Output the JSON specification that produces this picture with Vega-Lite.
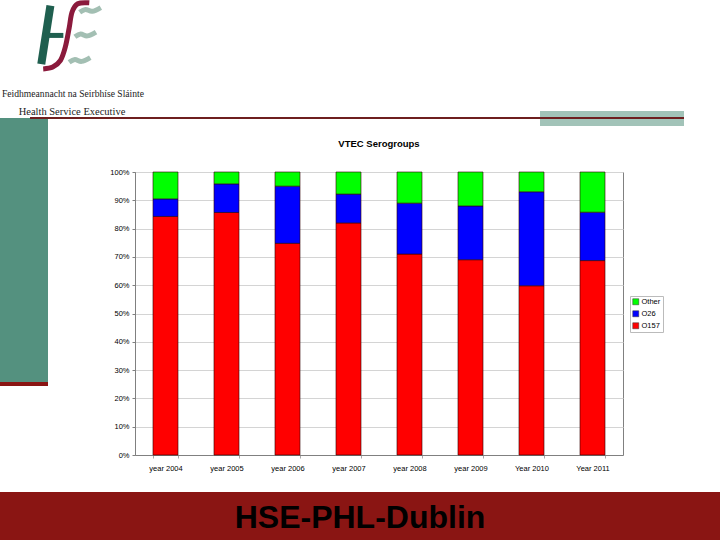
{"$schema":"https://vega.github.io/schema/vega-lite/v6.json","padding":0,"background":"white","bounds":"flush","spacing":0,"columns":4,"config":{"view":{"stroke":null},"font":"Liberation Sans"},
"concat":[
{"width":48,"height":85,"layer":[
{"data":{"values":[{"a":52.5,"b":6},{"a":43,"b":68}]},"mark":{"type":"line","color":"#1f5f4f","strokeWidth":8,"strokeCap":"butt","strokeJoin":"round","clip":false},"encoding":{"x":{"field":"a","type":"quantitative","scale":{"domain":[0,48],"zero":false},"axis":null},"y":{"field":"b","type":"quantitative","scale":{"domain":[85,0],"zero":false},"axis":null},"order":{"field":"b"}}},
{"data":{"values":[{"a":47,"b":37.5},{"a":66,"b":37.5}]},"mark":{"type":"line","color":"#1f5f4f","strokeWidth":5,"strokeCap":"butt","strokeJoin":"round","clip":false},"encoding":{"x":{"field":"a","type":"quantitative","axis":null},"y":{"field":"b","type":"quantitative","axis":null}}},
{"data":{"values":[{"a":93,"b":3},{"a":81,"b":4},{"a":75,"b":13},{"a":72,"b":30},{"a":68,"b":50},{"a":63,"b":64},{"a":55,"b":71},{"a":45,"b":73}]},"mark":{"type":"line","color":"#8b1a3c","strokeWidth":5,"strokeJoin":"round","interpolate":"cardinal","clip":false},"encoding":{"x":{"field":"a","type":"quantitative","axis":null},"y":{"field":"b","type":"quantitative","axis":null},"order":{"field":"b"}}},
{"data":{"values":[{"a":83,"b":13},{"a":89,"b":10},{"a":96,"b":12},{"a":105,"b":8}]},"mark":{"type":"line","color":"#a3bfb3","strokeWidth":5,"strokeJoin":"round","interpolate":"cardinal","clip":false},"encoding":{"x":{"field":"a","type":"quantitative","axis":null},"y":{"field":"b","type":"quantitative","axis":null}}},
{"data":{"values":[{"a":78,"b":39},{"a":84,"b":36},{"a":91,"b":38},{"a":100,"b":34}]},"mark":{"type":"line","color":"#a3bfb3","strokeWidth":5,"strokeJoin":"round","interpolate":"cardinal","clip":false},"encoding":{"x":{"field":"a","type":"quantitative","axis":null},"y":{"field":"b","type":"quantitative","axis":null}}},
{"data":{"values":[{"a":72,"b":66},{"a":78,"b":63},{"a":85,"b":65},{"a":94,"b":61}]},"mark":{"type":"line","color":"#a3bfb3","strokeWidth":5,"strokeJoin":"round","interpolate":"cardinal","clip":false},"encoding":{"x":{"field":"a","type":"quantitative","axis":null},"y":{"field":"b","type":"quantitative","axis":null}}}
]},
{"width":87,"height":85,"data":{"values":[{}]},"mark":{"type":"text","text":""}},
{"width":488,"height":85,"data":{"values":[{}]},"mark":{"type":"text","text":""}},
{"width":97,"height":85,"data":{"values":[{}]},"mark":{"type":"text","text":""}},

{"width":48,"height":26,"data":{"values":[{}]},"layer":[
{"mark":{"type":"text","text":"Feidhmeannacht na Seirbhíse Sláinte","font":"Liberation Serif","fontSize":9.6,"dx":49,"dy":-4,"color":"#222222"}},
{"mark":{"type":"text","text":"Health Service Executive","font":"Liberation Serif","fontSize":10.5,"dx":48,"dy":14,"color":"#222222"}}
]},
{"width":87,"height":26,"data":{"values":[{}]},"mark":{"type":"text","text":""}},
{"width":488,"height":26,"data":{"values":[{}]},"mark":{"type":"text","text":""}},
{"width":97,"height":26,"data":{"values":[{}]},"mark":{"type":"text","text":""}},

{"width":48,"height":7,"data":{"values":[{}]},"mark":{"type":"text","text":""}},
{"width":87,"height":7,"data":{"values":[{}]},"mark":{"type":"text","text":""}},
{"width":488,"height":7,"data":{"values":[{}]},"mark":{"type":"rect","color":"#a2c3b8"},"encoding":{"x":{"datum":405,"scale":{"domain":[0,488]},"axis":null},"x2":{"datum":488}}},
{"width":97,"height":7,"data":{"values":[{}]},"mark":{"type":"rect","color":"#a2c3b8"},"encoding":{"x":{"datum":0,"scale":{"domain":[0,97]},"axis":null},"x2":{"datum":61}}},

{"width":48,"height":8,"view":{"fill":"#54917f"},"data":{"values":[{}]},"mark":{"type":"rule","color":"#6e1f1f","strokeWidth":2},"encoding":{"x":{"datum":30,"scale":{"domain":[0,48]},"axis":null},"x2":{"datum":48},"y":{"datum":1,"scale":{"domain":[0,1]},"axis":null}}},
{"width":87,"height":8,"data":{"values":[{}]},"mark":{"type":"rule","color":"#6e1f1f","strokeWidth":2},"encoding":{"y":{"datum":1,"scale":{"domain":[0,1]},"axis":null}}},
{"width":488,"height":8,"data":{"values":[{}]},"layer":[
{"mark":{"type":"rect","color":"#a2c3b8"},"encoding":{"x":{"datum":405,"scale":{"domain":[0,488]},"axis":null},"x2":{"datum":488}}},
{"mark":{"type":"rule","color":"#6e1f1f","strokeWidth":2},"encoding":{"y":{"datum":1,"scale":{"domain":[0,1]},"axis":null}}}
]},
{"width":97,"height":8,"data":{"values":[{}]},"layer":[
{"mark":{"type":"rect","color":"#a2c3b8"},"encoding":{"x":{"datum":0,"scale":{"domain":[0,97]},"axis":null},"x2":{"datum":61}}},
{"mark":{"type":"rule","color":"#6e1f1f","strokeWidth":2},"encoding":{"x":{"datum":0,"scale":{"domain":[0,97]},"axis":null},"x2":{"datum":61},"y":{"datum":1,"scale":{"domain":[0,1]},"axis":null}}}
]},

{"width":48,"height":46,"view":{"fill":"#54917f"},"data":{"values":[{}]},"mark":{"type":"text","text":""}},
{"width":87,"height":46,"data":{"values":[{}]},"mark":{"type":"text","text":""}},
{"width":488,"height":46,"data":{"values":[{}]},"mark":{"type":"text","text":""}},
{"width":97,"height":46,"data":{"values":[{}]},"mark":{"type":"text","text":""}},

{"width":48,"height":283,"data":{"values":[{}]},"layer":[
{"mark":{"type":"rect","color":"#54917f"},"encoding":{"y":{"datum":1,"scale":{"domain":[0,1]},"axis":null},"y2":{"datum":0.258}}},
{"mark":{"type":"rect","color":"#8a1513"},"encoding":{"y":{"datum":0.258,"scale":{"domain":[0,1]},"axis":null},"y2":{"datum":0.244}}}
]},
{"width":87,"height":283,"data":{"values":[{}]},"mark":{"type":"text","text":""}},
{"width":488,"height":283,
"title":{"text":"VTEC Serogroups","fontSize":9.5,"fontWeight":"bold","font":"Liberation Sans","color":"#000000","anchor":"middle","offset":20},
"view":{"stroke":"#808080","strokeWidth":1},
"data":{"values":[
{"year":"year 2004","serogroup":"O157","value":84.3},{"year":"year 2004","serogroup":"O26","value":6.2},{"year":"year 2004","serogroup":"Other","value":9.5},
{"year":"year 2005","serogroup":"O157","value":85.7},{"year":"year 2005","serogroup":"O26","value":10.1},{"year":"year 2005","serogroup":"Other","value":4.2},
{"year":"year 2006","serogroup":"O157","value":74.8},{"year":"year 2006","serogroup":"O26","value":20.2},{"year":"year 2006","serogroup":"Other","value":5},
{"year":"year 2007","serogroup":"O157","value":82},{"year":"year 2007","serogroup":"O26","value":10.2},{"year":"year 2007","serogroup":"Other","value":7.8},
{"year":"year 2008","serogroup":"O157","value":71},{"year":"year 2008","serogroup":"O26","value":18},{"year":"year 2008","serogroup":"Other","value":11},
{"year":"year 2009","serogroup":"O157","value":69},{"year":"year 2009","serogroup":"O26","value":19},{"year":"year 2009","serogroup":"Other","value":12},
{"year":"Year 2010","serogroup":"O157","value":59.8},{"year":"Year 2010","serogroup":"O26","value":33.2},{"year":"Year 2010","serogroup":"Other","value":7},
{"year":"Year 2011","serogroup":"O157","value":68.7},{"year":"Year 2011","serogroup":"O26","value":17.1},{"year":"Year 2011","serogroup":"Other","value":14.2}
]},
"mark":{"type":"bar","stroke":"#300000","strokeWidth":0.6},
"encoding":{
"x":{"field":"year","type":"nominal","sort":null,"title":null,"scale":{"paddingInner":0.59,"paddingOuter":0.295},"axis":{"labelAngle":0,"labelFontSize":7.5,"labelColor":"#000000","tickBand":"extent","tickColor":"#aaaaaa","tickSize":3,"domainColor":"#808080","labelPadding":6}},
"y":{"field":"value","type":"quantitative","stack":"normalize","title":null,"axis":{"format":".0%","values":[0,0.1,0.2,0.3,0.4,0.5,0.6,0.7,0.8,0.9,1],"labelFontSize":7.5,"labelColor":"#000000","grid":true,"gridColor":"#d4d4d4","tickColor":"#808080","tickSize":3,"domainColor":"#808080","labelPadding":3}},
"color":{"field":"serogroup","type":"nominal","scale":{"domain":["Other","O26","O157"],"range":["#00ff00","#0000ff","#ff0000"]},"legend":{"orient":"none","legendX":630,"legendY":296,"title":null,"symbolType":"square","symbolSize":36,"symbolStrokeColor":"#333333","symbolStrokeWidth":0.5,"labelFontSize":7.5,"labelColor":"#000000","strokeColor":"#bbbbbb","padding":2,"rowPadding":3,"labelOffset":2}},
"order":{"field":"serogroup","sort":"ascending"}
}},
{"width":97,"height":283,"data":{"values":[{}]},"mark":{"type":"text","text":""}},

{"width":48,"height":37,"data":{"values":[{}]},"mark":{"type":"text","text":""}},
{"width":87,"height":37,"data":{"values":[{}]},"mark":{"type":"text","text":""}},
{"width":488,"height":37,"data":{"values":[{}]},"mark":{"type":"text","text":""}},
{"width":97,"height":37,"data":{"values":[{}]},"mark":{"type":"text","text":""}},

{"width":48,"height":48,"view":{"fill":"#8a1513"},"data":{"values":[{}]},"mark":{"type":"text","text":""}},
{"width":87,"height":48,"view":{"fill":"#8a1513"},"data":{"values":[{}]},"mark":{"type":"text","text":""}},
{"width":488,"height":48,"view":{"fill":"#8a1513"},"data":{"values":[{}]},"mark":{"type":"text","text":"HSE-PHL-Dublin","fontSize":32,"fontWeight":"bold","font":"Liberation Sans","color":"#000000","dx":-19,"dy":2}},
{"width":97,"height":48,"view":{"fill":"#8a1513"},"data":{"values":[{}]},"mark":{"type":"text","text":""}}
]}
